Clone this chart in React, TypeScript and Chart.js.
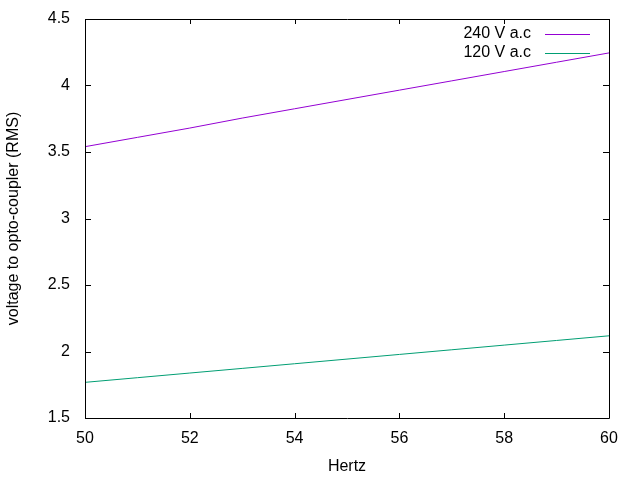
import React, { useEffect, useRef } from "react";
import { Chart, registerables } from "chart.js";

Chart.register(...registerables);

const hertz = [50, 51, 52, 53, 54, 55, 56, 57, 58, 59, 60];
const v240 = [3.54, 3.61, 3.68, 3.755, 3.825, 3.895, 3.965, 4.035, 4.105, 4.175, 4.245];
const v120 = [1.768, 1.803, 1.838, 1.873, 1.908, 1.943, 1.978, 2.013, 2.048, 2.083, 2.118];
const seriesLabels = ["240 V a.c", "120 V a.c"];
const seriesColors = ["#9400D3", "#009E73"];
const xTitle = "Hertz";
const yTitle = "voltage to opto-coupler (RMS)";

const FONT = "Liberation Sans, Arial, sans-serif";
const FS = 16;

const framePlugin = {
  id: "frame",
  afterDatasetsDraw(chart: any) {
    const { ctx, chartArea: a, scales } = chart;
    ctx.save();
    ctx.strokeStyle = "#000";
    ctx.lineWidth = 1;
    ctx.beginPath();
    ctx.rect(Math.round(a.left) + 0.5, Math.round(a.top) + 0.5, Math.round(a.right - a.left), Math.round(a.bottom - a.top));
    ctx.stroke();
    ctx.beginPath();
    scales.x.ticks.forEach((t: any) => {
      const px = Math.round(scales.x.getPixelForValue(t.value)) + 0.5;
      ctx.moveTo(px, a.bottom);
      ctx.lineTo(px, a.bottom - 5);
      ctx.moveTo(px, a.top);
      ctx.lineTo(px, a.top + 5);
    });
    scales.y.ticks.forEach((t: any) => {
      const py = Math.round(scales.y.getPixelForValue(t.value)) + 0.5;
      ctx.moveTo(a.left, py);
      ctx.lineTo(a.left + 6, py);
      ctx.moveTo(a.right, py);
      ctx.lineTo(a.right - 6, py);
    });
    ctx.stroke();
    // legend
    ctx.font = FS + "px " + FONT;
    ctx.textAlign = "right";
    ctx.textBaseline = "middle";
    chart.data.datasets.forEach((ds: any, i: number) => {
      const y = 34 + i * 19;
      ctx.fillStyle = "#000";
      ctx.fillText(ds.label, 531, y);
      ctx.strokeStyle = ds.borderColor;
      ctx.beginPath();
      ctx.moveTo(545, Math.round(y) + 0.5);
      ctx.lineTo(590, Math.round(y) + 0.5);
      ctx.stroke();
    });
    ctx.restore();
  },
};

export default function App() {
  const ref = useRef<HTMLCanvasElement>(null);
  useEffect(() => {
    const chart = new Chart(ref.current!, {
      type: "line",
      data: {
        datasets: [v240, v120].map((vals, i) => ({
          label: seriesLabels[i],
          data: hertz.map((h, j) => ({ x: h, y: vals[j] })),
          borderColor: seriesColors[i],
          backgroundColor: seriesColors[i],
          borderWidth: 1,
          pointRadius: 0,
          tension: 0,
          fill: false,
        })),
      },
      options: {
        animation: false,
        responsive: false,
        maintainAspectRatio: false,
        layout: { padding: { top: 19, right: 31, left: 0, bottom: 0 } },
        plugins: { legend: { display: false }, tooltip: { enabled: false } },
        scales: {
          x: {
            type: "linear",
            min: 50,
            max: 60,
            grid: { display: false, drawTicks: false },
            border: { display: false },
            ticks: { stepSize: 2, padding: 11, color: "#000", font: { family: FONT, size: FS } },
            title: { display: true, text: xTitle, color: "#000", font: { family: FONT, size: FS }, padding: { top: 0, bottom: 4 } },
            afterFit: (s: any) => { s.height = 62; s.paddingLeft = 0; s.paddingRight = 0; },
          },
          y: {
            type: "linear",
            min: 1.5,
            max: 4.5,
            grid: { display: false, drawTicks: false },
            border: { display: false },
            ticks: {
              stepSize: 0.5,
              padding: 15,
              color: "#000",
              font: { family: FONT, size: FS },
              callback: (v: any) => String(Math.round(Number(v) * 10) / 10),
            },
            title: { display: true, text: yTitle, color: "#000", font: { family: FONT, size: FS }, padding: { top: 4, bottom: 0 } },
            afterFit: (s: any) => { s.width = 85; s.paddingTop = 0; s.paddingBottom = 0; },
          },
        },
      },
      plugins: [framePlugin],
    });
    return () => chart.destroy();
  }, []);
  return (
    <div style={{ position: "fixed", left: 0, top: 0, width: 640, height: 480, background: "#fff" }}>
      <canvas ref={ref} width={640} height={480} style={{ width: 640, height: 480 }} />
    </div>
  );
}
